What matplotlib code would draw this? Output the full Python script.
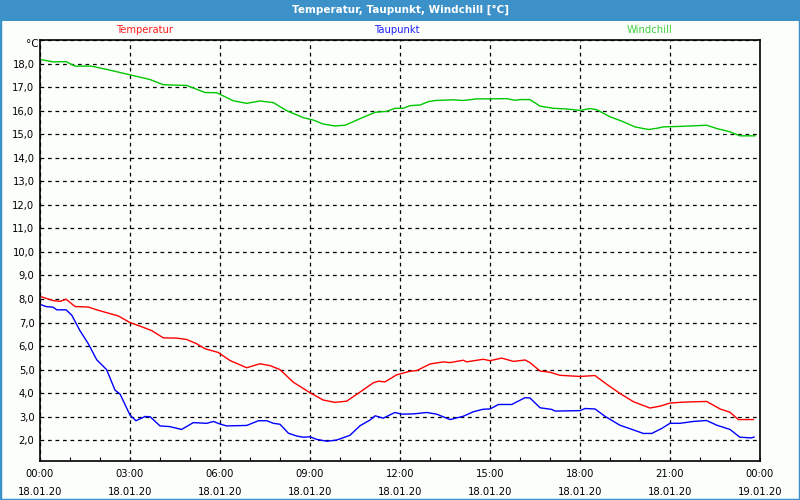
import matplotlib
matplotlib.use('Agg')
import matplotlib.pyplot as plt
import matplotlib.dates as mdates
from matplotlib.patches import Rectangle
from matplotlib.ticker import FuncFormatter, MultipleLocator
import pandas as pd

# Zeitpunkte in Stunden ab 18.01.20 00:00
temp_h = [0.03, 0.44, 0.67, 0.87, 1.17, 1.61, 1.89, 2.22, 2.61, 3.0, 3.33, 3.72, 4.11, 4.56,
          4.89, 5.22, 5.5, 5.94, 6.33, 6.89, 7.33, 7.67, 8.0, 8.44, 9.0, 9.44, 9.83, 10.22,
          10.67, 11.11, 11.28, 11.5, 11.89, 12.33, 12.56, 13.0, 13.44, 13.67, 14.11, 14.22,
          14.67, 14.78, 15.0, 15.39, 15.78, 16.17, 16.33, 16.67, 17.0, 17.33, 18.0, 18.5,
          18.89, 19.33, 19.78, 20.33, 20.67, 21.0, 21.44, 22.22, 22.67, 23.0, 23.28, 23.78]
temp = [8.1, 7.93, 7.9, 7.99, 7.68, 7.66, 7.54, 7.42, 7.28, 7.0, 6.85, 6.66, 6.35, 6.34,
        6.28, 6.1, 5.89, 5.73, 5.39, 5.08, 5.25, 5.17, 5.0, 4.47, 4.02, 3.71, 3.61, 3.66,
        4.05, 4.44, 4.51, 4.48, 4.78, 4.93, 4.96, 5.24, 5.33, 5.3, 5.4, 5.33,
        5.42, 5.44, 5.38, 5.49, 5.35, 5.41, 5.3, 4.94, 4.89, 4.76, 4.71, 4.75,
        4.38, 3.99, 3.64, 3.37, 3.45, 3.58, 3.62, 3.65, 3.33, 3.19, 2.88, 2.88]

taup_h = [0.03, 0.2, 0.44, 0.56, 0.87, 1.06, 1.33, 1.61, 1.89, 2.22, 2.5, 2.67, 3.0, 3.2,
          3.5, 3.67, 4.0, 4.33, 4.72, 5.11, 5.56, 5.78, 6.0, 6.22, 6.89, 7.28, 7.56, 7.78,
          8.0, 8.28, 8.56, 8.78, 9.0, 9.22, 9.56, 9.89, 10.33, 10.67, 11.0, 11.17, 11.44,
          11.83, 12.06, 12.44, 12.89, 13.22, 13.67, 14.11, 14.44, 14.78, 15.0, 15.28, 15.72,
          16.17, 16.33, 16.67, 17.06, 17.17, 18.0, 18.17, 18.5, 18.83, 19.33, 19.78, 20.11,
          20.39, 20.72, 21.0, 21.33, 21.78, 22.22, 22.56, 23.0, 23.33, 23.72, 23.8]
taup = [7.76, 7.68, 7.65, 7.54, 7.54, 7.31, 6.66, 6.1, 5.42, 5.0, 4.13, 3.96, 3.07, 2.83,
        3.01, 3.0, 2.61, 2.58, 2.46, 2.75, 2.72, 2.8, 2.69, 2.61, 2.63, 2.83, 2.83, 2.72,
        2.68, 2.3, 2.18, 2.13, 2.15, 2.04, 1.96, 2.01, 2.21, 2.62, 2.86, 3.04, 2.94,
        3.18, 3.11, 3.12, 3.18, 3.11, 2.88, 3.02, 3.21, 3.32, 3.33, 3.52, 3.52,
        3.81, 3.8, 3.38, 3.31, 3.24, 3.26, 3.35, 3.33, 3.02, 2.64, 2.44, 2.29,
        2.29, 2.5, 2.72, 2.72, 2.8, 2.84, 2.64, 2.46, 2.13, 2.1, 2.14]

wind_h = [0.03, 0.44, 0.87, 1.17, 1.72, 2.33, 3.0, 3.67, 4.11, 4.89, 5.5, 5.89, 6.44, 6.89,
          7.33, 7.78, 8.22, 8.78, 9.11, 9.44, 9.83, 10.17, 10.67, 11.17, 11.56, 11.83, 12.11,
          12.33, 12.67, 12.94, 13.17, 13.78, 14.11, 14.56, 15.0, 15.56, 15.83, 16.0, 16.33,
          16.67, 17.11, 17.56, 18.0, 18.33, 18.56, 19.0, 19.44, 19.83, 20.28, 20.56, 20.78,
          21.33, 22.22, 22.56, 23.0, 23.33, 23.83]
wind = [18.17, 18.07, 18.08, 17.89, 17.89, 17.72, 17.52, 17.32, 17.1, 17.07, 16.77, 16.76,
        16.42, 16.31, 16.41, 16.34, 16.0, 15.7, 15.6, 15.43, 15.35, 15.38, 15.66, 15.93,
        15.97, 16.1, 16.1, 16.21, 16.24, 16.38, 16.43, 16.46, 16.43, 16.5, 16.5, 16.51,
        16.44, 16.47, 16.47, 16.19, 16.1, 16.07, 16.01, 16.09, 16.04, 15.74, 15.53, 15.31,
        15.2, 15.25, 15.31, 15.33, 15.38, 15.24, 15.1, 14.93, 14.93]

labels = ['Temperatur', 'Taupunkt', 'Windchill']
colors = ['#ff0000', '#0000ff', '#00c800']
label_colors = ['#ff2020', '#2020ff', '#40d040']

start = pd.Timestamp('2020-01-18 00:00')


def to_time(hours):
    return start + pd.to_timedelta(hours, unit='h')


def y_label(v, pos):
    # nur 2,0 bis 18,0 beschriften
    if 1.5 <= v <= 18.5:
        return f'{v:.1f}'.replace('.', ',')
    return ''


fig = plt.figure(figsize=(8, 5), dpi=100, facecolor='#fcfefc')

# Titelleiste und Rahmen
fig.patches.append(Rectangle((0, 479 / 500), 1, 21 / 500, transform=fig.transFigure,
                             facecolor='#3c92c8', edgecolor='none', zorder=0))
fig.patches.append(Rectangle((0, 0), 1, 1, transform=fig.transFigure,
                             facecolor='none', edgecolor='#3c92c8', linewidth=2.5, zorder=5))
fig.text(0.5, 1 - 10 / 500, 'Temperatur, Taupunkt, Windchill [°C]', ha='center', va='center',
         color='white', fontsize=7.5, fontweight='bold')

ax = fig.add_axes([40 / 800, 39 / 500, 720 / 800, 421 / 500])
ax.set_facecolor('#fcfefc')

for h, v, c in zip([temp_h, taup_h, wind_h], [temp, taup, wind], colors):
    ax.plot(to_time(h), v, color=c, linewidth=1)

ax.set_xlim(start, start + pd.Timedelta(hours=24))
ax.set_ylim(1.12, 19.0)

ax.xaxis.set_major_locator(mdates.HourLocator(byhour=range(0, 24, 3)))
ax.xaxis.set_minor_locator(mdates.HourLocator())
ax.xaxis.set_major_formatter(mdates.DateFormatter('%H:%M\n%d.%m.%y'))
ax.yaxis.set_major_locator(MultipleLocator(1.0))
ax.yaxis.set_major_formatter(FuncFormatter(y_label))

ax.grid(True, color='black', linestyle=(0, (3, 3)), linewidth=0.9)
ax.tick_params(axis='x', which='both', direction='in', length=3, width=0.8, labelsize=7.2,
               pad=6, colors='black')
ax.tick_params(axis='y', length=0, labelsize=7.2, pad=4)
for lab in ax.get_xticklabels():
    lab.set_linespacing(1.9)
for s in ax.spines.values():
    s.set_linewidth(1.2)

fig.text(32 / 800, 1 - 44 / 500, '°C', ha='center', va='center', fontsize=7.5)

# Legende oben
for x, lab, c in zip([145, 397, 650], labels, label_colors):
    fig.text(x / 800, 1 - 30 / 500, lab, ha='center', va='center', color=c, fontsize=7.2)

fig.savefig('out.png', dpi=100, facecolor=fig.get_facecolor())
